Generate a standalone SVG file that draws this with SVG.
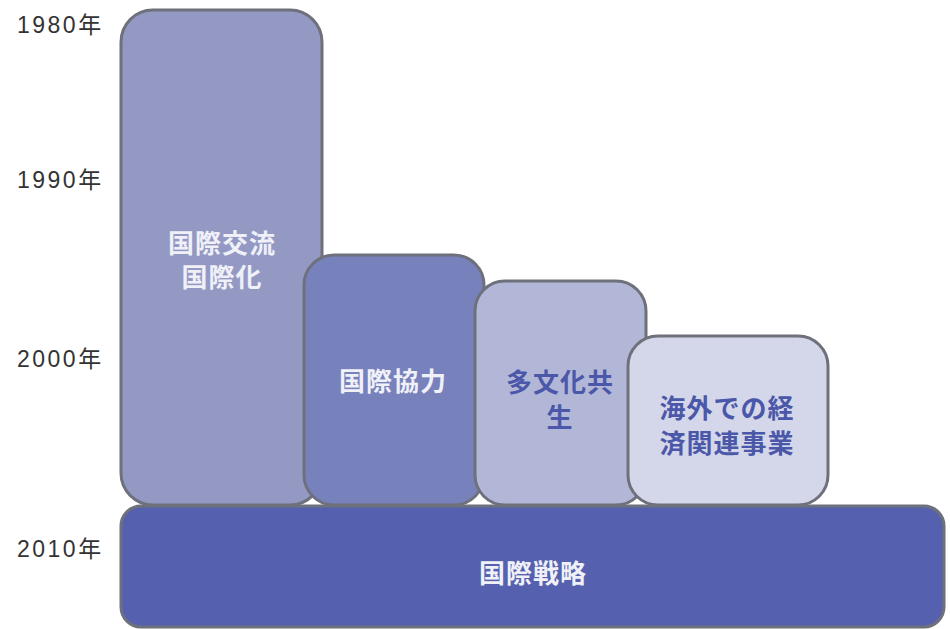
<svg xmlns="http://www.w3.org/2000/svg" width="950" height="629" viewBox="0 0 950 629">
<style>
.box{stroke:#6e717c;stroke-width:3}
.yr{font-family:"Liberation Sans","Noto Sans CJK JP",sans-serif;font-size:23px;fill:#333333;letter-spacing:2.5px}
.lbl{font-family:"Noto Sans CJK JP",sans-serif;font-size:26px;font-weight:bold;text-anchor:middle;letter-spacing:1px}
.w{fill:#eff0f8}
.b{fill:#4b57a8}
</style>
<rect width="950" height="629" fill="#ffffff"/>
<g id="years">
<text class="yr" x="17" y="33">1980年</text>
<text class="yr" x="17" y="188">1990年</text>
<text class="yr" x="17" y="367">2000年</text>
<text class="yr" x="17" y="557">2010年</text>
</g>
<g id="n1">
<rect class="box" x="121" y="10" width="201" height="495" rx="32" fill="#9499c4"/>
<text class="lbl w" x="222" y="253">国際交流</text>
<text class="lbl w" x="222" y="287">国際化</text>
</g>
<g id="n2">
<rect class="box" x="304" y="255" width="180" height="250" rx="30" fill="#7781bb"/>
<text class="lbl w" x="393" y="391">国際協力</text>
</g>
<g id="n3">
<rect class="box" x="475" y="281" width="171" height="224" rx="30" fill="#b3b7d7"/>
<text class="lbl b" x="560" y="392">多文化共</text>
<text class="lbl b" x="560" y="427">生</text>
</g>
<g id="n4">
<rect class="box" x="628" y="336" width="200" height="169" rx="30" fill="#d4d7e9"/>
<text class="lbl b" x="727" y="418">海外での経</text>
<text class="lbl b" x="727" y="453">済関連事業</text>
</g>
<g id="n5">
<rect class="box" x="121" y="506" width="823" height="121" rx="20" fill="#5561ae"/>
<text class="lbl w" x="533" y="583">国際戦略</text>
</g>
<g id="connectors"></g>
</svg>
